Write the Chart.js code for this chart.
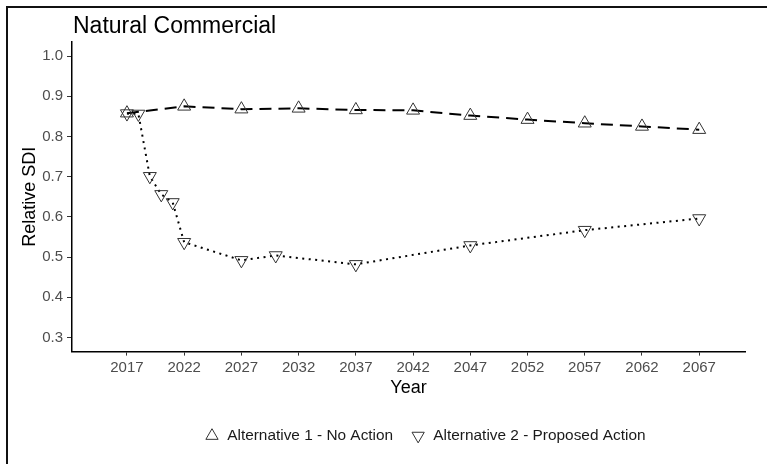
<!DOCTYPE html>
<html>
<head>
<meta charset="utf-8">
<script src="https://cdn.jsdelivr.net/npm/chart.js@4/dist/chart.umd.min.js"></script>
<style>
  html, body { margin: 0; padding: 0; background: #fff; overflow: hidden; width: 767px; height: 464px; }
  #frame {
    position: absolute; left: 6px; top: 6px;
    width: 800px; height: 470px;
    border-left: 2px solid #111; border-top: 2px solid #111;
    overflow: hidden;
  }
  #chart { display: block; }
</style>
</head>
<body>
<div id="frame"><canvas id="chart" width="784" height="456"></canvas></div>
<script>
// Relative stand density index (SDI) projections, natural commercial stands
const chartTitle = 'Natural Commercial';
const seriesNames = ['Alternative 1 - No Action', 'Alternative 2 - Proposed Action'];

const yearsAlt1 = [2017, 2022, 2027, 2032, 2037, 2042, 2047, 2052, 2057, 2062, 2067];
const sdiAlt1   = [0.858, 0.875, 0.868, 0.870, 0.866, 0.865, 0.852, 0.842, 0.833, 0.825, 0.817];

const yearsAlt2 = [2017, 2018, 2019, 2020, 2021, 2022, 2027, 2030, 2037, 2047, 2057, 2067];
const sdiAlt2   = [0.857, 0.856, 0.701, 0.656, 0.636, 0.537, 0.492, 0.504, 0.482, 0.529, 0.567, 0.596];

const xTicks = [2017, 2022, 2027, 2032, 2037, 2042, 2047, 2052, 2057, 2062, 2067];
const yTicks = [0.3, 0.4, 0.5, 0.6, 0.7, 0.8, 0.9, 1.0];

const toPoints = (xs, ys) => xs.map((x, i) => ({ x: x, y: ys[i] }));

const FONT = '"Liberation Sans", Arial, Helvetica, sans-serif';

// Panel title drawn flush with the left edge of the plotting area
const panelTitle = {
  id: 'panelTitle',
  afterDraw(chart) {
    const { ctx, chartArea } = chart;
    ctx.save();
    ctx.font = '23px ' + FONT;
    ctx.fillStyle = '#000';
    ctx.textAlign = 'left';
    ctx.textBaseline = 'alphabetic';
    ctx.fillText(chartTitle, chartArea.left + 1, 25);
    ctx.restore();
  }
};

// Widen the legend box to the right so the legend centres on the full figure
// rather than on the padded layout area
const legendSpan = {
  id: 'legendSpan',
  afterLayout(chart) {
    if (chart.legend) {
      chart.legend.right += 97;
    }
  }
};

new Chart(document.getElementById('chart'), {
  type: 'line',
  data: {
    datasets: [
      {
        label: seriesNames[0],
        data: toPoints(yearsAlt1, sdiAlt1),
        borderColor: '#000',
        borderWidth: 2,
        borderDash: [12, 7],
        pointStyle: 'triangle',
        pointRadius: 7.5,
        pointBorderWidth: 1,
        pointBorderColor: '#333',
        pointBackgroundColor: 'rgba(0,0,0,0)',
        backgroundColor: 'rgba(0,0,0,0)',
        tension: 0,
        fill: false
      },
      {
        label: seriesNames[1],
        data: toPoints(yearsAlt2, sdiAlt2),
        borderColor: '#000',
        borderWidth: 2,
        borderDash: [2, 4.5],
        pointStyle: 'triangle',
        pointRotation: 180,
        pointRadius: 7.5,
        pointBorderWidth: 1,
        pointBorderColor: '#333',
        pointBackgroundColor: 'rgba(0,0,0,0)',
        backgroundColor: 'rgba(0,0,0,0)',
        tension: 0,
        fill: false
      }
    ]
  },
  options: {
    responsive: false,
    animation: false,
    devicePixelRatio: 1,
    layout: { padding: { top: 34, left: 0, right: 47, bottom: 10.5 } },
    plugins: {
      title: { display: false },
      tooltip: { enabled: false },
      legend: {
        position: 'bottom',
        labels: {
          usePointStyle: true,
          boxWidth: 15,
          boxHeight: 10,
          padding: 17.5,
          color: '#1a1a1a',
          font: { family: FONT, size: 15.4 }
        }
      }
    },
    scales: {
      x: {
        type: 'linear',
        min: 2012.2,
        max: 2071.0,
        afterBuildTicks: s => { s.ticks = xTicks.map(v => ({ value: v })); },
        afterFit: s => { s.height = 59; },
        grid: { drawOnChartArea: false, drawTicks: true, tickLength: 4, color: '#333', lineWidth: 1 },
        border: { display: true, color: '#000', width: 1.5 },
        ticks: {
          padding: 3,
          color: '#4d4d4d',
          font: { family: FONT, size: 15 },
          maxRotation: 0,
          callback: v => String(v)
        },
        title: {
          display: true,
          text: 'Year',
          color: '#000',
          font: { family: FONT, size: 18 },
          padding: { top: 0, bottom: 12.2 }
        }
      },
      y: {
        min: 0.265,
        max: 1.035,
        afterBuildTicks: s => { s.ticks = yTicks.map(v => ({ value: v })); },
        afterFit: s => { s.width = 64; },
        grid: { drawOnChartArea: false, drawTicks: true, tickLength: 5, color: '#333', lineWidth: 1 },
        border: { display: true, color: '#000', width: 1.5 },
        ticks: {
          padding: 4,
          color: '#4d4d4d',
          font: { family: FONT, size: 15 },
          callback: v => Number(v).toFixed(1)
        },
        title: {
          display: true,
          text: 'Relative SDI',
          color: '#000',
          font: { family: FONT, size: 18 },
          padding: { top: 11.2, bottom: 0 }
        }
      }
    }
  },
  plugins: [panelTitle, legendSpan]
});
</script>
</body>
</html>
